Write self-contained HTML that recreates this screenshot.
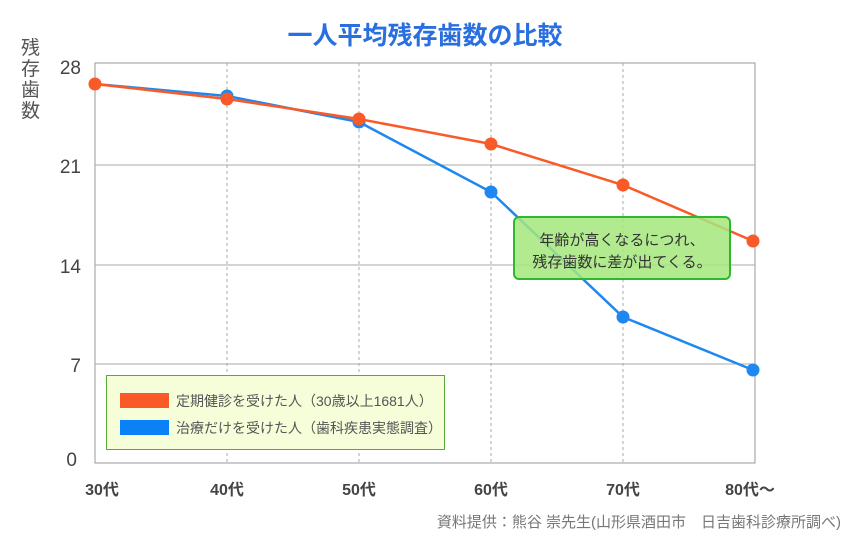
<!DOCTYPE html>
<html><head><meta charset="utf-8"><style>
body{margin:0;background:#fff;}
svg text{font-family:"Liberation Sans","Noto Sans CJK JP",sans-serif;}
</style></head><body>
<svg width="850" height="550" xmlns="http://www.w3.org/2000/svg">
<text x="425" y="44" text-anchor="middle" font-size="25" font-weight="bold" fill="#2a6fe0">一人平均残存歯数の比較</text>
<g font-size="19" fill="#555">
<text x="21" y="54">残</text><text x="21" y="75">存</text><text x="21" y="96">歯</text><text x="21" y="117">数</text>
</g>
<rect x="95" y="63" width="660" height="400" fill="none" stroke="#999" stroke-width="1"/>
<g stroke="#aaa" stroke-width="1">
<line x1="95" y1="165" x2="755" y2="165"/>
<line x1="95" y1="265" x2="755" y2="265"/>
<line x1="95" y1="364" x2="755" y2="364"/>
</g>
<g stroke="#aaa" stroke-width="1" stroke-dasharray="3,3">
<line x1="227" y1="63" x2="227" y2="463"/>
<line x1="359" y1="63" x2="359" y2="463"/>
<line x1="491" y1="63" x2="491" y2="463"/>
<line x1="623" y1="63" x2="623" y2="463"/>
</g>
<g font-size="19" fill="#444" text-anchor="end">
<text x="81" y="74">28</text><text x="81" y="173">21</text><text x="81" y="273">14</text><text x="81" y="372">7</text><text x="77" y="466">0</text>
</g>
<g font-size="16" fill="#444" text-anchor="middle" font-weight="bold">
<text x="102" y="495">30代</text><text x="227" y="495">40代</text><text x="359" y="495">50代</text><text x="491" y="495">60代</text><text x="623" y="495">70代</text><text x="750" y="495">80代〜</text>
</g>
<polyline points="95,84 227,96 359,122 491,192 623,317 753,370" fill="none" stroke="#1e88f0" stroke-width="2.5"/>
<g fill="#1e88f0"><circle cx="227" cy="96" r="6.5"/><circle cx="359" cy="122" r="6.5"/><circle cx="491" cy="192" r="6.5"/><circle cx="623" cy="317" r="6.5"/><circle cx="753" cy="370" r="6.5"/></g>
<polyline points="95,84 227,99 359,119 491,144 623,185 753,241" fill="none" stroke="#fa5a28" stroke-width="2.5"/>
<g fill="#fa5a28"><circle cx="95" cy="84" r="6.5"/><circle cx="227" cy="99" r="6.5"/><circle cx="359" cy="119" r="6.5"/><circle cx="491" cy="144" r="6.5"/><circle cx="623" cy="185" r="6.5"/><circle cx="753" cy="241" r="6.5"/></g>
<rect x="514" y="217" width="216" height="62" rx="5" fill="#a4e67c" fill-opacity="0.85" stroke="#2db82d" stroke-width="2"/>
<g font-size="15" fill="#333" text-anchor="middle">
<text x="622" y="245">年齢が高くなるにつれ、</text><text x="622" y="267">残存歯数に差が出てくる。</text>
</g>
<rect x="106.5" y="375.5" width="338" height="74" fill="#f6fdd9" stroke="#5aaa3a" stroke-width="1"/>
<rect x="120" y="393" width="49" height="15" fill="#fa5a28"/>
<rect x="120" y="420" width="49" height="15" fill="#0a82f5"/>
<g font-size="14" fill="#555">
<text x="176" y="406">定期健診を受けた人（30歳以上1681人）</text>
<text x="176" y="433">治療だけを受けた人（歯科疾患実態調査）</text>
</g>
<text x="841" y="527" text-anchor="end" font-size="15" fill="#777">資料提供：熊谷 崇先生(山形県酒田市　日吉歯科診療所調べ)</text>
</svg>
</body></html>
